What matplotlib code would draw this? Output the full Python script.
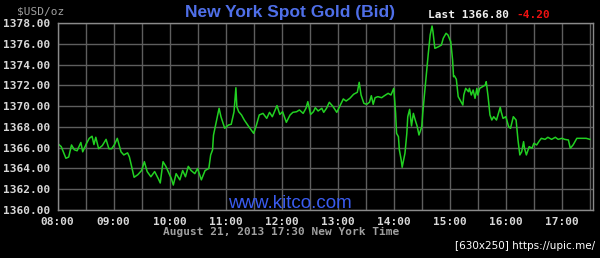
import matplotlib
matplotlib.use("Agg")
import matplotlib.pyplot as plt
from matplotlib.ticker import MultipleLocator, FuncFormatter

# minutes after 08:00 New York time, bid price in USD/oz
minutes = [0, 4, 9, 12, 15, 18, 21, 25, 27, 31, 34, 37, 39, 41, 44, 48, 52, 55, 58, 61,
           64, 68, 71, 75, 77, 82, 86, 90, 93, 96, 100, 104, 108, 110, 113, 116, 118, 122, 124, 127,
           131, 134, 137, 140, 143, 147, 150, 154, 158, 162, 164, 166, 167, 170, 173, 175, 179, 183, 186, 189,
           191, 192, 194, 197, 200, 205, 210, 213, 216, 220, 224, 227, 230, 233, 235, 238, 241, 245, 249, 252,
           256, 259, 263, 266, 268, 271, 274, 276, 279, 283, 285, 288, 291, 295, 299, 302, 306, 309, 313, 317,
           321, 323, 325, 328, 331, 334, 336, 338, 340, 343, 347, 350, 354, 357, 360, 362, 363, 365, 366, 368,
           369, 372, 374, 375, 377, 379, 381, 383, 385, 387, 390, 391, 393, 395, 397, 399, 401, 402, 404, 408,
           411, 413, 416, 418, 421, 423, 424, 425, 427, 429, 432, 434, 435, 437, 440, 441, 443, 445, 447, 449,
           450, 452, 455, 458, 459, 461, 463, 465, 467, 470, 474, 475, 477, 480, 483, 485, 488, 491, 493, 495,
           497, 499, 500, 502, 505, 508, 510, 513, 516, 518, 522, 525, 529, 533, 536, 540, 543, 547, 549, 552,
           556, 561, 566, 570]
price = [1366.42, 1366.10, 1364.98, 1365.10, 1366.26, 1365.80, 1365.70, 1366.50, 1365.60, 1366.40,
         1366.90, 1367.10, 1366.30, 1367.00, 1365.90, 1366.20, 1366.80, 1365.90, 1365.90, 1366.30,
         1366.90, 1365.60, 1365.30, 1365.50, 1365.10, 1363.15, 1363.40, 1363.80, 1364.65, 1363.70,
         1363.20, 1363.70, 1363.00, 1362.60, 1364.65, 1364.20, 1363.80, 1363.00, 1362.40, 1363.50,
         1362.90, 1363.80, 1363.20, 1364.20, 1363.80, 1363.50, 1364.00, 1362.90, 1363.80, 1364.00,
         1365.30, 1365.78, 1367.20, 1368.50, 1369.79, 1368.98, 1367.87, 1368.18, 1368.25, 1369.46,
         1371.77, 1369.95, 1369.46, 1369.15, 1368.66, 1368.00, 1367.38, 1368.18, 1369.15, 1369.30,
         1368.82, 1369.40, 1368.98, 1369.63, 1370.05, 1369.20, 1369.46, 1368.44, 1369.15, 1369.40,
         1369.46, 1369.63, 1369.30, 1369.79, 1370.43, 1369.20, 1369.46, 1369.85, 1369.53, 1369.79,
         1369.40, 1369.79, 1370.37, 1369.95, 1369.40, 1369.95, 1370.69, 1370.49, 1370.75, 1371.14,
         1371.33, 1372.29, 1371.07, 1370.27, 1370.17, 1370.37, 1371.00, 1370.17, 1370.81, 1370.91,
         1370.81, 1371.00, 1371.23, 1371.07, 1371.71, 1369.30, 1367.38, 1367.06, 1365.78, 1364.81,
         1364.11, 1365.46, 1367.38, 1368.98, 1369.69, 1368.09, 1369.30, 1368.66, 1368.09, 1367.22,
         1368.02, 1369.30, 1371.23, 1373.16, 1375.08, 1376.85, 1377.71, 1377.16, 1375.56, 1375.72,
         1375.88, 1376.53, 1377.01, 1376.85, 1376.20, 1374.44, 1372.83, 1372.90, 1372.58, 1370.91,
         1370.43, 1370.10, 1371.07, 1371.71, 1371.39, 1371.71, 1371.07, 1371.55, 1370.75, 1371.71,
         1371.07, 1371.71, 1371.87, 1372.03, 1372.35, 1370.91, 1369.15, 1368.66, 1368.98, 1368.66,
         1369.89, 1369.46, 1368.82, 1368.98, 1368.02, 1367.86, 1368.98, 1368.66, 1366.74, 1365.30,
         1365.61, 1366.58, 1365.94, 1365.30, 1366.10, 1365.94, 1366.42, 1366.26, 1366.67, 1366.90,
         1366.80, 1367.00, 1366.80, 1367.00, 1366.80, 1366.90, 1366.80, 1366.74, 1365.94, 1366.26,
         1366.90, 1366.90, 1366.90, 1366.80]

title = "New York Spot Gold (Bid)"
last_txt = "Last 1366.80"
change_txt = "-4.20"
stamp = "August 21, 2013 17:30 New York Time"

W, H = 600, 258
mono = "DejaVu Sans Mono"

fig = plt.figure(figsize=(W / 100, H / 100), dpi=100, facecolor="black")
ax = fig.add_axes([57.5 / W, 1 - 210 / H, 535.2 / W, 187 / H], facecolor="black")

ax.plot(minutes, price, color="#22d022", lw=1.1)

ax.set_xlim(0, 573)
ax.set_ylim(1360, 1378)
ax.xaxis.set_major_locator(MultipleLocator(60))
ax.xaxis.set_minor_locator(MultipleLocator(30))
ax.yaxis.set_major_locator(MultipleLocator(2))
ax.xaxis.set_major_formatter(FuncFormatter(lambda v, p: "%02d:00" % (8 + int(round(v / 60)))))
ax.yaxis.set_major_formatter(FuncFormatter(lambda v, p: "%.2f" % v))
ax.grid(True, which="both", axis="x", color="#5e5e5e", lw=1)
ax.grid(True, which="major", axis="y", color="#5e5e5e", lw=1)
ax.set_axisbelow(True)
ax.tick_params(which="both", length=0, colors="#d8d8d8", labelsize=8, pad=5)
for lab in ax.get_xticklabels() + ax.get_yticklabels():
    lab.set_family(mono)
    lab.set_weight("bold")
for s in ax.spines.values():
    s.set_color("#8a8a8a")
    s.set_linewidth(1)

fig.text(290 / W, 1 - 12 / H, title, color="#4f6fe8", fontsize=12.5, fontweight="bold",
         family="Liberation Sans", ha="center", va="center")
fig.text(41 / W, 1 - 11 / H, "$USD/oz", color="#a0a0a0", fontsize=8, family=mono,
         ha="center", va="center")
fig.text(428 / W, 1 - 15 / H, last_txt, color="#f0f0f0", fontsize=8, family=mono,
         fontweight="bold", ha="left", va="center")
fig.text(516 / W, 1 - 15 / H, change_txt, color="#ee1111", fontsize=8, family=mono,
         fontweight="bold", ha="left", va="center")
fig.text(290 / W, 1 - 203 / H, "www.kitco.com", color="#3a5cf0", fontsize=13.5,
         family="Liberation Sans", ha="center", va="center")
fig.text(281 / W, 1 - 231.5 / H, stamp, color="#a0a0a0", fontsize=8, family=mono,
         fontweight="bold", ha="center", va="center")
fig.text(595 / W, 1 - 246 / H, "[630x250] https://upic.me/", color="white", fontsize=7.5,
         ha="right", va="center")

fig.savefig("out.png", dpi=100, facecolor="black")
